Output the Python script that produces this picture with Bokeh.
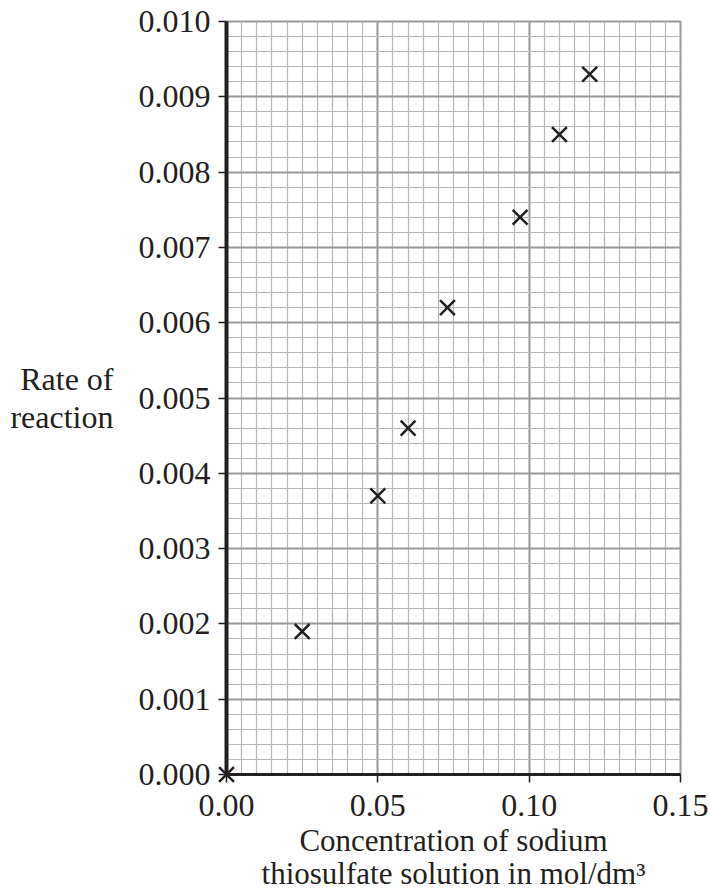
import numpy as np
from bokeh.plotting import figure
from bokeh.models import Range1d, FixedTicker, PrintfTickFormatter
from bokeh.embed import file_html
from bokeh.resources import INLINE

# data
concentration = [0.0, 0.025, 0.05, 0.06, 0.073, 0.097, 0.11, 0.12]
rate = [0.0, 0.0019, 0.0037, 0.0046, 0.0062, 0.0074, 0.0085, 0.0093]
x_ticks = [0.0, 0.05, 0.10, 0.15]
y_ticks = [0.000, 0.001, 0.002, 0.003, 0.004, 0.005, 0.006, 0.007, 0.008, 0.009, 0.010]
y_label_lines = ["Rate of", "reaction"]
x_label_lines = ["Concentration of sodium", "thiosulfate solution in mol/dm\u00b3"]

FONT = "Liberation Serif"
W, H = 710, 894
FL, FT, FW, FH = 226, 21, 454, 753

p = figure(width=W, height=H, output_backend="svg", toolbar_location=None,
           x_range=Range1d(0, 0.15), y_range=Range1d(0, 0.010),
           min_border_left=FL, min_border_top=FT,
           min_border_right=W - FL - FW, min_border_bottom=H - FT - FH)
p.background_fill_color = "white"
p.border_fill_color = "white"
p.outline_line_color = "#9a9a9a"
p.outline_line_width = 2

p.xaxis.ticker = FixedTicker(ticks=x_ticks, minor_ticks=list(np.round(np.arange(0, 0.15001, 0.005), 4)))
p.yaxis.ticker = FixedTicker(ticks=y_ticks, minor_ticks=list(np.round(np.arange(0, 0.010001, 0.0002), 5)))
p.xaxis.formatter = PrintfTickFormatter(format="%.2f")
p.yaxis.formatter = PrintfTickFormatter(format="%.3f")

for ax, lw in ((p.xaxis, 3), (p.yaxis, 4)):
    ax.axis_line_color = "#231f20"
    ax.axis_line_width = lw
    ax.major_tick_line_color = "#231f20"
    ax.major_tick_line_width = 1.5
    ax.major_tick_out = 8
    ax.major_tick_in = 0
    ax.minor_tick_line_color = None
    ax.major_label_text_font = FONT
    ax.major_label_text_font_size = "32px"
    ax.major_label_text_color = "#231f20"
    ax.axis_label_text_font = FONT
    ax.axis_label_text_font_style = "normal"
    ax.axis_label_text_color = "#231f20"
p.yaxis.major_label_standoff = 8
p.xaxis.major_label_standoff = 12

p.yaxis.axis_label = "\n".join(y_label_lines)
p.yaxis.axis_label_orientation = "horizontal"
p.yaxis.axis_label_standoff = 22
p.yaxis.axis_label_text_font_size = "32px"
p.yaxis.axis_label_text_line_height = 1.05

p.xaxis.axis_label = "\n".join(x_label_lines)
p.xaxis.axis_label_standoff = 4
p.xaxis.axis_label_text_font_size = "31px"
p.xaxis.axis_label_text_line_height = 0.97

for g in (p.xgrid, p.ygrid):
    g.grid_line_color = "#9a9a9a"
    g.grid_line_width = 2
    g.minor_grid_line_color = "#b8b8b8"
    g.minor_grid_line_width = 1.2

r = p.scatter(concentration, rate, marker="x", size=21, line_width=2.5, line_color="#231f20")
r.level = "overlay"

open("out.html", "w").write(file_html(p, INLINE))
